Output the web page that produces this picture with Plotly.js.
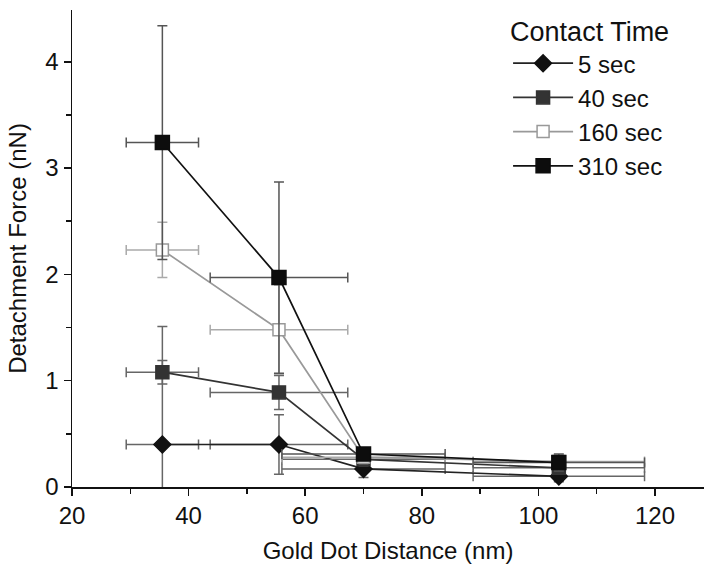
<!DOCTYPE html>
<html>
<head>
<meta charset="utf-8">
<script src="https://cdn.plot.ly/plotly-3.0.1.min.js"></script>
<style>html,body{margin:0;padding:0;background:#fff;}#chart{width:704px;height:566px;}</style>
</head>
<body>
<div id="chart"></div>
<script>
const seriesNames = ['5 sec', '40 sec', '160 sec', '310 sec'];
const distance = [35.5, 55.5, 70, 103.5];
const distanceErr = [6.2, 11.8, 14, 14.7];
const force5 = [0.40, 0.40, 0.17, 0.10];
const force40 = [1.08, 0.89, 0.26, 0.18];
const force160 = [2.23, 1.48, 0.28, 0.24];
const force310 = [3.24, 1.97, 0.31, 0.23];
const err5 = [1.11, 0.28, 0.08, 0.05];
const err40 = [0.11, 0.16, 0.06, 0.05];
const err160 = [0.26, 0.42, 0.06, 0.05];
const err310 = [1.10, 0.90, 0.06, 0.08];

const forces = [force5, force40, force160, force310];
const errs = [err5, err40, err160, err310];
const styles = [
  {symbol: 'diamond', size: 13, fill: '#111', edge: '#111', line: '#222', err: '#666'},
  {symbol: 'square', size: 13, fill: '#333', edge: '#333', line: '#333', err: '#666'},
  {symbol: 'square', size: 12, fill: '#fff', edge: '#999', line: '#999', err: '#aaa'},
  {symbol: 'square', size: 14, fill: '#0d0d0d', edge: '#0d0d0d', line: '#111', err: '#555'}
];

const traces = seriesNames.map((name, i) => ({
  type: 'scatter',
  mode: 'lines+markers',
  name: name,
  x: distance,
  y: forces[i],
  line: {color: styles[i].line, width: 1.7},
  marker: {symbol: styles[i].symbol, size: styles[i].size, color: styles[i].fill,
           line: {color: styles[i].edge, width: 1.5}},
  error_y: {type: 'data', array: errs[i], visible: true, color: styles[i].err, thickness: 1.5, width: 5},
  error_x: {type: 'data', array: distanceErr, visible: true, color: styles[i].err, thickness: 1.5, width: 5}
}));

const font = {family: '"Liberation Sans", Arial, sans-serif', color: '#111'};

const layout = {
  width: 704, height: 566,
  margin: {l: 72, r: 0, t: 10, b: 79},
  paper_bgcolor: '#fff', plot_bgcolor: '#fff',
  font: Object.assign({size: 24}, font),
  showlegend: true,
  legend: {
    x: 0.69, y: 1.0084, xanchor: 'left', yanchor: 'top',
    bgcolor: 'rgba(0,0,0,0)',
    font: Object.assign({size: 24}, font),
    title: {text: 'Contact Time', font: Object.assign({size: 27}, font), side: 'top'},
    itemwidth: 60,
    tracegroupgap: 0
  },
  xaxis: {
    range: [20, 128.4],
    tickvals: [20, 40, 60, 80, 100, 120],
    ticks: 'outside', ticklen: 7, tickwidth: 1.5, tickcolor: '#111',
    showline: true, linecolor: '#111', linewidth: 1.5,
    showgrid: false, zeroline: false,
    tickfont: Object.assign({size: 24}, font),
    minor: {dtick: 10, tick0: 30, ticks: 'outside', ticklen: 5, tickwidth: 1.5, tickcolor: '#111', showgrid: false},
    title: {text: 'Gold Dot Distance (nm)', font: Object.assign({size: 24}, font), standoff: 14}
  },
  yaxis: {
    range: [0, 4.487],
    tickvals: [0, 1, 2, 3, 4],
    ticks: 'outside', ticklen: 7, tickwidth: 1.5, tickcolor: '#111',
    showline: true, linecolor: '#111', linewidth: 1.5,
    showgrid: false, zeroline: false,
    tickfont: Object.assign({size: 24}, font),
    minor: {dtick: 0.5, ticks: 'outside', ticklen: 5, tickwidth: 1.5, tickcolor: '#111', showgrid: false},
    title: {text: 'Detachment Force (nN)', font: Object.assign({size: 24}, font), standoff: 12}
  }
};

Plotly.newPlot('chart', traces, layout, {displayModeBar: false, staticPlot: true});
</script>
</body>
</html>
